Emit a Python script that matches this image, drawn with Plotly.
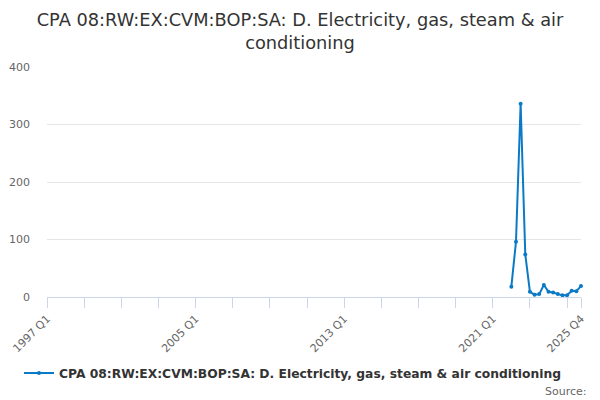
import plotly.graph_objects as go

years = list(range(1997, 2026))
quarters = [f"{y} Q{q}" for y in years for q in range(1, 5)]

data_start = "2022 Q1"
values = [18, 96, 336, 74, 9, 4, 5, 21, 9, 8, 5, 3, 3, 11, 10, 19]

label_quarters = ["1997 Q1", "2005 Q1", "2013 Q1", "2021 Q1", "2025 Q4"]

start_idx = quarters.index(data_start)
xs = quarters[start_idx:start_idx + len(values)]

tick_idx = list(range(0, len(quarters), 8)) + [len(quarters) - 1]
tickvals = [quarters[i] for i in tick_idx]
ticktext = [q if q in label_quarters else "" for q in tickvals]

title = "CPA 08:RW:EX:CVM:BOP:SA: D. Electricity, gas, steam & air<br>conditioning"
series_name = "CPA 08:RW:EX:CVM:BOP:SA: D. Electricity, gas, steam & air conditioning"
color = "#0b7ac6"

# page body has an 8px default margin; compensate
off = 8
W, H = 600, 400

fig = go.Figure()
fig.add_trace(go.Scatter(x=quarters, y=[None] * len(quarters), mode="lines",
                         showlegend=False, hoverinfo="skip"))
fig.add_trace(go.Scatter(x=xs, y=values, mode="lines+markers", name=series_name,
                         line=dict(color=color, width=2),
                         marker=dict(color=color, size=4),
                         cliponaxis=False))

fig.update_layout(
    width=W, height=H,
    paper_bgcolor="white", plot_bgcolor="white",
    margin=dict(l=47 - off, r=W - (581 - off), t=67 - off, b=H - (297 - off)),
    font=dict(family="DejaVu Sans, Verdana, sans-serif", color="#666666"),
    title=dict(text=title, x=(300 - off) / W, xanchor="center", xref="container",
               y=1 - (26 - off) / H, yanchor="middle", yref="container",
               font=dict(size=17.8, color="#333333")),
    showlegend=True,
    legend=dict(orientation="h", x=(298 - off - 5) / W, xanchor="center", xref="container",
                y=1 - (373 - off) / H, yanchor="middle", yref="container",
                font=dict(size=12.3, color="#333333", weight="bold"),
                itemwidth=30, bgcolor="rgba(0,0,0,0)"),
    xaxis=dict(type="category", categoryorder="array", categoryarray=quarters,
               range=[0, len(quarters) - 1], showgrid=False, automargin=False,
               tickmode="array", tickvals=tickvals, ticktext=ticktext,
               tickangle=-45, ticks="outside", ticklen=10, tickcolor="#ccd6eb",
               showline=True, linecolor="#ccd6eb", linewidth=1,
               tickfont=dict(size=11, color="#666666"), zeroline=False),
    yaxis=dict(range=[0, 400], tickvals=[0, 100, 200, 300, 400], automargin=False,
               showgrid=True, gridcolor="#e6e6e6", zeroline=False,
               showline=False, ticks="", ticklabelstandoff=16,
               tickfont=dict(size=11, color="#666666")),
)

fig.add_annotation(text="Source:", xref="paper", yref="paper",
                   x=(589 - 47) / 534, y=(297 - 391) / 230,
                   xanchor="right", yanchor="middle", showarrow=False,
                   font=dict(size=11, color="#666666"))

fig.write_html("out.html")
